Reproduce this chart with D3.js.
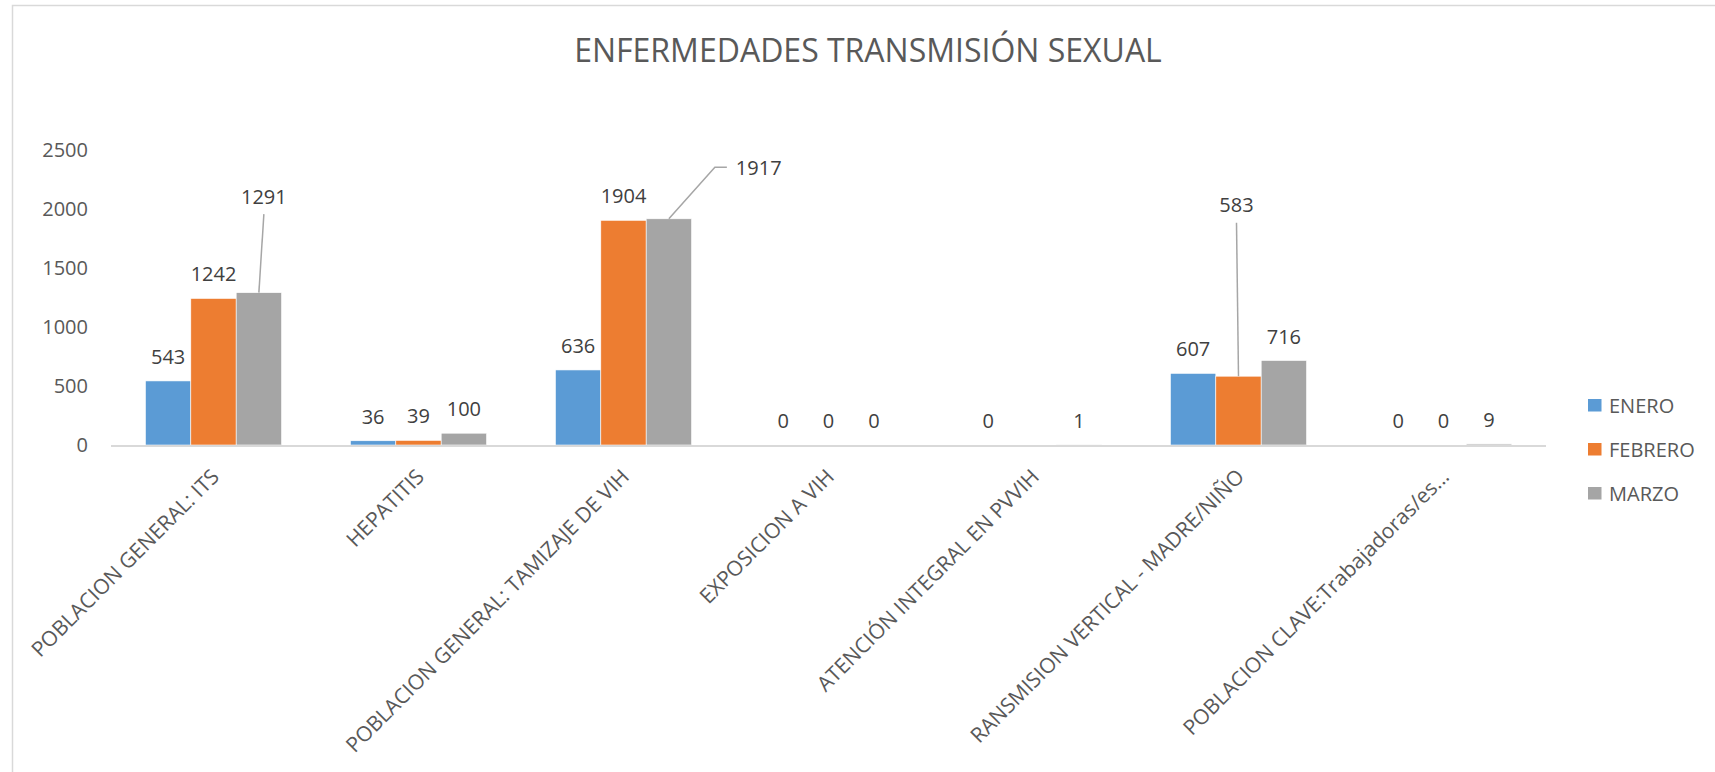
<!DOCTYPE html>
<html lang="es">
<head>
<meta charset="UTF-8">
<title>ENFERMEDADES TRANSMISIÓN SEXUAL</title>
<script src="https://d3js.org/d3.v7.min.js"></script>
<style>
    body { margin: 0; padding: 0; background: #fff; overflow: hidden; }
    svg text { font-family: "Open Sans", "Noto Sans", sans-serif; }
    .tick-label { fill: #595959; font-size: 20px; }
    .data-label { fill: #404040; font-size: 20px; }
    .cat-label { fill: #595959; font-size: 21px; }
    .legend-label { fill: #595959; font-size: 20px; }
</style>
</head>
<body>
<div id="chart"></div>
<script>
    // datos
    const categories = [
        "POBLACION GENERAL: ITS",
        "HEPATITIS",
        "POBLACION GENERAL: TAMIZAJE DE VIH",
        "EXPOSICION A VIH",
        "ATENCIÓN INTEGRAL EN PVVIH",
        "RANSMISION VERTICAL - MADRE/NIÑO",
        "POBLACION CLAVE:Trabajadoras/es..."
    ];
    const seriesNames = ["ENERO", "FEBRERO", "MARZO"];
    const enero   = [543, 36, 636, 0, 0, 607, 0];
    const febrero = [1242, 39, 1904, 0, null, 583, 0];
    const marzo   = [1291, 100, 1917, 0, 1, 716, 9];
    const yTicks = [0, 500, 1000, 1500, 2000, 2500];
    const colors = ["#5b9bd5", "#ed7d31", "#a5a5a5"];

    const seriesValues = [enero, febrero, marzo];

    // etiquetas desplazadas con línea guía (categoria-serie)
    const labelNudge = {
        "0-2": { dx: 5, dy: -89, anchor: "middle", leader: "up" },
        "2-2": { dx: 67, dy: -44, anchor: "start", leader: "elbow" },
        "5-1": { dx: -2, dy: -164, anchor: "middle", leader: "up" }
    };

    const width = 1715, height = 772;
    const svg = d3.select("#chart").append("svg")
        .attr("width", width)
        .attr("height", height);

    // marco
    svg.append("rect")
        .attr("x", 12.5).attr("y", 5.5)
        .attr("width", width).attr("height", height)
        .attr("fill", "none")
        .attr("stroke", "#d9d9d9")
        .attr("stroke-width", 1.5);

    // título
    svg.append("text")
        .attr("x", 868).attr("y", 62)
        .attr("text-anchor", "middle")
        .attr("fill", "#595959")
        .style("font-size", "32px")
        .text("ENFERMEDADES TRANSMISIÓN SEXUAL");

    const x = d3.scaleBand()
        .domain(categories)
        .range([111, 1546])
        .paddingInner(0.336)
        .paddingOuter(0.168);

    const xs = d3.scaleBand()
        .domain(seriesNames)
        .range([0, x.bandwidth()]);

    const y = d3.scaleLinear()
        .domain([0, 2500])
        .range([445, 150]);

    // eje Y (solo etiquetas)
    const yAxis = svg.append("g")
        .attr("transform", "translate(88,0)")
        .call(d3.axisLeft(y).tickValues(yTicks).tickFormat(d3.format("d")).tickSize(0).tickPadding(0));
    yAxis.select(".domain").remove();
    yAxis.selectAll("text")
        .attr("class", "tick-label")
        .attr("font-family", null)
        .attr("font-size", null)
        .attr("fill", null);

    // barras
    const rows = [];
    categories.forEach((c, i) => {
        seriesNames.forEach((s, j) => {
            rows.push({ cat: c, ci: i, series: s, si: j, value: seriesValues[j][i] });
        });
    });

    svg.append("g").selectAll("rect")
        .data(rows.filter(d => d.value))
        .join("rect")
        .attr("x", d => x(d.cat) + xs(d.series))
        .attr("width", xs.bandwidth())
        .attr("y", d => y(d.value))
        .attr("height", d => y(0) - y(d.value))
        .attr("fill", d => colors[d.si])
        .attr("stroke", "#fff")
        .attr("stroke-width", 0.6);

    // eje X
    svg.append("line")
        .attr("x1", 111).attr("x2", 1546)
        .attr("y1", y(0) + 1).attr("y2", y(0) + 1)
        .attr("stroke", "#d9d9d9")
        .attr("stroke-width", 2);

    // etiquetas de datos
    const labels = svg.append("g");
    rows.filter(d => d.value !== null).forEach(d => {
        const cx = x(d.cat) + xs(d.series) + xs.bandwidth() / 2;
        const top = y(d.value);
        const n = labelNudge[d.ci + "-" + d.si];
        if (!n) {
            labels.append("text")
                .attr("class", "data-label")
                .attr("x", cx).attr("y", top - 17)
                .attr("text-anchor", "middle")
                .text(d.value);
            return;
        }
        const lx = cx + n.dx, ly = top + n.dy;
        labels.append("text")
            .attr("class", "data-label")
            .attr("x", lx).attr("y", ly)
            .attr("text-anchor", n.anchor)
            .text(d.value);
        let pts;
        if (n.leader === "up") {
            pts = [[cx, top], [lx, ly + 10.5]];
        } else {
            pts = [[cx, top], [lx - 21, ly - 7.5], [lx - 9, ly - 7.5]];
        }
        labels.append("path")
            .attr("d", d3.line()(pts))
            .attr("fill", "none")
            .attr("stroke", "#a6a6a6")
            .attr("stroke-width", 1.5);
    });

    // etiquetas de categoría
    svg.append("g").selectAll("text")
        .data(categories)
        .join("text")
        .attr("class", "cat-label")
        .attr("text-anchor", "end")
        .attr("transform", d => `translate(${x(d) + x.bandwidth() / 2 + 7},478) rotate(-45)`)
        .text(d => d);

    // leyenda
    const legend = svg.append("g").attr("transform", "translate(1588,0)");
    seriesNames.forEach((s, j) => {
        const cy = 405 + j * 44;
        legend.append("rect")
            .attr("x", 0).attr("y", cy - 6)
            .attr("width", 13.5).attr("height", 12.5)
            .attr("fill", colors[j]);
        legend.append("text")
            .attr("class", "legend-label")
            .attr("x", 21).attr("y", cy + 7.5)
            .text(s);
    });
</script>
</body>
</html>
